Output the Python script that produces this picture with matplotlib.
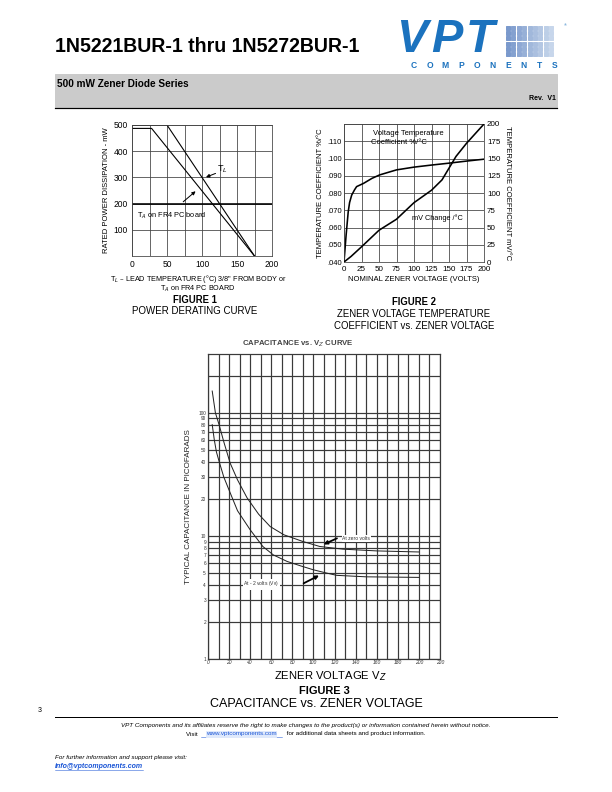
import numpy as np
import matplotlib
matplotlib.use("Agg")
import matplotlib.pyplot as plt
import matplotlib.patches as shapes
from matplotlib.lines import Line2D
from matplotlib import font_manager

plt.rcParams['font.family'] = ['Liberation Sans', 'DejaVu Sans']
installed = {f.name for f in font_manager.fontManager.ttflist}
narrow = 'Liberation Sans Narrow' if 'Liberation Sans Narrow' in installed else None

W, H = 612, 792

# figure 1 - power derating
f1_temp_TL = [0, 50, 175]
f1_pd_TL = [500, 500, 0]
f1_temp_TA = [0, 28, 175]
f1_pd_TA = [487, 487, 0]

# figure 2 - temperature coefficient
f2_volt_tc = [0, 3, 6, 8, 11, 15, 18, 28, 40, 51, 75, 100, 125, 150, 175, 200]
f2_tc = [.040, .0555, .069, .0745, .0788, .0818, .0837, .0856, .0885, .0905,
         .0934, .0950, .0962, .0973, .0985, .0996]
f2_volt_mv = [0, 10, 25, 50, 75, 100, 125, 140, 150, 160, 175, 200]
f2_mv = [0, 8, 22, 46, 62, 86, 104, 119, 136, 153, 172, 200]

# figure 3 - capacitance
f3_volt_0 = [4, 7, 10.5, 15, 21, 28, 37, 48, 59, 72, 90, 106, 128, 160, 200]
f3_cap_0 = [150, 100, 80, 58, 39, 28.5, 20.4, 15, 11.9, 10.2, 9.0, 8.2, 7.8, 7.55, 7.4]
f3_volt_2 = [4, 6, 8, 11, 15, 21, 28, 40, 52, 62, 75, 88, 100, 112, 122, 150, 200]
f3_cap_2 = [80, 60, 48, 39, 30, 22.4, 16, 11.2, 8.2, 7.0, 6.2, 5.7, 5.3, 5.0, 4.78,
            4.65, 4.6]
f3_yticks = [1, 2, 3, 4, 5, 6, 7, 8, 9, 10, 20, 30, 40, 50, 60, 70, 80, 90, 100]


def box(x0, y0, x1, y1):
    return [x0 / W, 1 - y1 / H, (x1 - x0) / W, (y1 - y0) / H]


def ftext(x, y, s, **kw):
    return fig.text(x / W, 1 - y / H, s, **kw)


def fline(x0, x1, y, **kw):
    fig.lines.append(Line2D([x0 / W, x1 / W], [1 - y / H] * 2,
                            transform=fig.transFigure, **kw))


fig = plt.figure(figsize=(W / 72, H / 72), dpi=72)

# ---- page header ----
if narrow:
    ftext(55, 46, "1N5221BUR-1 thru 1N5272BUR-1", fontsize=23, fontweight='bold',
          family=narrow, va='center', ha='left')
else:
    ftext(55, 46, "1N5221BUR-1 thru 1N5272BUR-1", fontsize=19.5, fontweight='bold',
          va='center', ha='left')
blue = '#1b72be'
for letter, x in zip("VPT", [396, 431, 466]):
    ftext(x, 40, letter, fontsize=47, fontweight='bold', style='italic', color=blue,
          va='center', ha='left')
for i in range(9):
    for j in range(6):
        t = i / 8
        c = (0.48 + 0.3 * t, 0.6 + 0.24 * t, 0.8 + 0.12 * t)
        fig.patches.append(shapes.Rectangle(((506 + i * 5.4) / W, 1 - (26 + j * 5.2 + 4) / H),
                                            4 / W, 4 / H, color=c,
                                            transform=fig.transFigure))
ftext(565, 25, "®", fontsize=4, color=blue, ha='center', va='center')
for letter, x in zip("COMPONENTS", np.linspace(414, 555, 10)):
    ftext(x, 65, letter, fontsize=8.5, fontweight='bold', color=blue,
          ha='center', va='center')

fig.patches.append(shapes.Rectangle((55 / W, 1 - 107 / H), 502 / W, 33 / H,
                                    color='#cbcbcb', transform=fig.transFigure))
fline(55, 557, 108, color='black', lw=1.2)
ftext(57, 84, "500 mW Zener Diode Series", fontsize=10, fontweight='bold',
      va='center', ha='left')
ftext(556, 99, "Rev.  V1", fontsize=7, fontweight='bold', va='center', ha='right')

# ---- figure 1 ----
ax1 = fig.add_axes(box(132, 125, 272, 256))
ax1.plot(f1_temp_TL, f1_pd_TL, color='black', lw=1.1)
ax1.plot(f1_temp_TA, f1_pd_TA, color='black', lw=1.1)
ax1.set_xlim(0, 200)
ax1.set_ylim(0, 500)
ax1.set_xticks(np.arange(0, 201, 25))
ax1.set_xticklabels(['0', '', '50', '', '100', '', '150', '', '200'], fontsize=8.5)
ax1.set_yticks([100, 200, 300, 400, 500])
ax1.set_yticklabels(['100', '200', '300', '400', '500'], fontsize=8.5)
ax1.tick_params(length=0, pad=4)
ax1.grid(True, color='#444444', lw=0.8)
ax1.axhline(200, color='black', lw=1.6)
for s in ax1.spines.values():
    s.set_color('#444444')
    s.set_linewidth(0.8)
ax1.set_ylabel("RATED POWER DISSIPATION - mW", fontsize=7.6, labelpad=4)
ax1.text(129, 330, "T$_L$", fontsize=9, ha='center', va='center')
ax1.annotate("", xy=(103, 298), xytext=(122, 318),
             arrowprops=dict(arrowstyle='-|>', color='black', lw=1, mutation_scale=7))
ax1.text(7, 154, "T$_A$ on FR4 PC board", fontsize=7.4, ha='left', va='center')
ax1.annotate("", xy=(93, 252), xytext=(71, 202),
             arrowprops=dict(arrowstyle='-|>', color='black', lw=1, mutation_scale=7))
ftext(198, 279, "T$_L$ – LEAD TEMPERATURE (°C) 3/8\" FROM BODY or", fontsize=7.3,
      ha='center', va='center')
ftext(198, 289, "T$_A$ on FR4 PC BOARD", fontsize=7.3, ha='center', va='center')
ftext(195, 300, "FIGURE 1", fontsize=9.5, fontweight='bold', ha='center', va='center')
ftext(195, 311, "POWER DERATING CURVE", fontsize=9.8, ha='center', va='center')

# ---- figure 2 ----
ax2 = fig.add_axes(box(344, 124, 484, 262))
ax2.plot(f2_volt_tc, f2_tc, color='black', lw=1.6)
ax2.set_xlim(0, 200)
ax2.set_ylim(.040, .120)
ax2.set_xticks(np.arange(0, 201, 25))
ax2.set_xticklabels([str(v) for v in range(0, 201, 25)], fontsize=8)
ax2.set_yticks(np.arange(.040, .1201, .010))
ax2.set_yticklabels(['.040', '.050', '.060', '.070', '.080', '.090', '.100', '.110', ''],
                    fontsize=7.5)
ax2.tick_params(axis='y', length=0, pad=2)
ax2.tick_params(axis='x', length=0, pad=4)
ax2.grid(True, color='#444444', lw=0.8)
for s in ax2.spines.values():
    s.set_color('#444444')
    s.set_linewidth(0.8)
ax2.set_ylabel("TEMPERATURE COEFFICIENT %/°C", fontsize=7.6, labelpad=3)
ax2.set_xlabel("NOMINAL ZENER VOLTAGE (VOLTS)", fontsize=7.6, labelpad=3)
ax2b = ax2.twinx()
ax2b.plot(f2_volt_mv, f2_mv, color='black', lw=1.6)
ax2b.set_ylim(0, 200)
ax2b.set_yticks(np.arange(0, 201, 25))
ax2b.set_yticklabels([str(v) for v in range(0, 201, 25)], fontsize=8)
ax2b.tick_params(length=0, pad=3)
for s in ax2b.spines.values():
    s.set_visible(False)
ax2b.set_ylabel("TEMPERATURE COEFFICIENT mV/°C", fontsize=7.6, rotation=-90,
                labelpad=10)
ax2.text(41, .1145, "Voltage Temperature", fontsize=7.6, ha='left', va='center')
ax2.text(39, .1093, "Coefficient %/°C", fontsize=7.6, ha='left', va='center')
ax2b.text(97, 64, "mV Change /°C", fontsize=7.4, ha='left', va='center')
ftext(414, 302, "FIGURE 2", fontsize=9.5, fontweight='bold', ha='center', va='center')
ftext(414, 314, "ZENER VOLTAGE TEMPERATURE", fontsize=9.6, ha='center', va='center')
ftext(414, 326, "COEFFICIENT vs. ZENER VOLTAGE", fontsize=9.6, ha='center', va='center')

# ---- figure 3 ----
ax3 = fig.add_axes(box(208, 354, 440, 659))
ax3.set_yscale('log')
ax3.plot(f3_volt_0, f3_cap_0, color='#222222', lw=1.0)
ax3.plot(f3_volt_2, f3_cap_2, color='#222222', lw=1.0)
ax3.set_xlim(0, 220)
ax3.set_ylim(1, 300)
ax3.set_xticks(np.arange(0, 221, 10))
ax3.set_xticklabels([str(v) if v % 20 == 0 else '' for v in range(0, 221, 10)],
                    fontsize=5, style='italic', color='#333333')
ax3.set_yticks(f3_yticks + [200])
ax3.set_yticklabels([str(v) for v in f3_yticks] + [''], fontsize=4.8, color='#333333')
ax3.minorticks_off()
ax3.tick_params(axis='x', length=0, pad=1.5)
ax3.tick_params(axis='y', length=0, pad=2)
ax3.grid(True, color='#3a3a3a', lw=1.2)
for s in ax3.spines.values():
    s.set_color('#3a3a3a')
    s.set_linewidth(1.2)
ax3.set_ylabel("TYPICAL CAPACITANCE IN PICOFARADS", fontsize=8, labelpad=6,
               color='#222222')
ax3.text(127, 9.6, "At zero volts", fontsize=5, ha='left', va='center',
         color='#333333').set_bbox(dict(color='white', pad=0.3))
ax3.annotate("", xy=(108, 8.4), xytext=(124, 9.7),
             arrowprops=dict(arrowstyle='-|>', color='black', lw=1.8, mutation_scale=7))
ax3.text(33, 4.07, "At - 2 volts (V$_R$)", fontsize=5, ha='left', va='center',
         color='#333333').set_bbox(dict(color='white', pad=0.3))
ax3.annotate("", xy=(107, 4.85), xytext=(89, 4.05),
             arrowprops=dict(arrowstyle='-|>', color='black', lw=1.8, mutation_scale=7))
ftext(298, 344, "CAPACITANCE vs. V$_Z$ CURVE", fontsize=7.8, fontweight='bold',
      ha='center', va='center', color='#444444')
ftext(330, 676, "ZENER VOLTAGE V$_Z$", fontsize=11.3, ha='center', va='center')
ftext(324, 691, "FIGURE 3", fontsize=11, fontweight='bold', ha='center', va='center')
ftext(316, 704, "CAPACITANCE vs. ZENER VOLTAGE", fontsize=12.5, ha='center',
      va='center')

# ---- footer ----
ftext(40, 710, "3", fontsize=7, ha='center', va='center')
fline(55, 557, 717, color='black', lw=1)
ftext(306, 725, "VPT Components and its affiliates reserve the right to make changes to "
      "the product(s) or information contained herein without notice.",
      fontsize=6.2, style='italic', ha='center', va='center')
ftext(199, 734, "Visit ", fontsize=6.2, ha='right', va='center')
ftext(241, 734, "www.vptcomponents.com", fontsize=6.2, color='#1a55d6', ha='center',
      va='center').set_bbox(dict(color='#dfe9fb', pad=0.2))
ftext(285, 734, " for additional data sheets and product information.", fontsize=6.2,
      ha='left', va='center')
fline(201, 282, 737, color='#1a55d6', lw=0.5)
ftext(55, 757, "For further information and support please visit:", fontsize=6.2,
      style='italic', ha='left', va='center')
ftext(55, 766, "info@vptcomponents.com", fontsize=7, style='italic', fontweight='bold',
      color='#1a55d6', ha='left', va='center')
fline(55, 143, 769.5, color='#1a55d6', lw=0.5)

fig.savefig("out.png", dpi=72)
